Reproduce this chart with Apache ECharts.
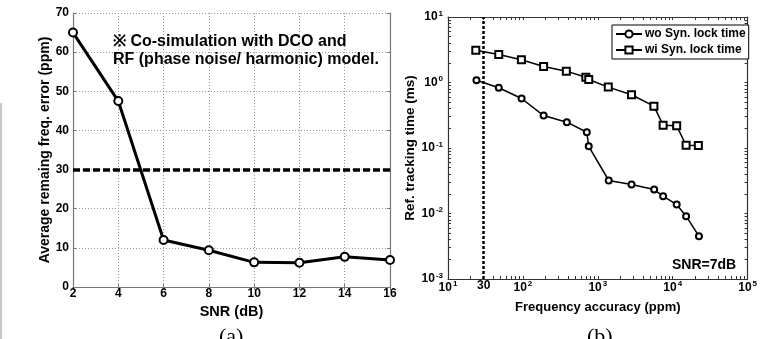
<!DOCTYPE html>
<html>
<head>
<meta charset="utf-8">
<script src="https://cdn.jsdelivr.net/npm/echarts@6/dist/echarts.min.js"></script>
<style>
  html, body { margin: 0; padding: 0; background: #fff; }
  #chart { width: 760px; height: 339px; }
</style>
</head>
<body>
<div id="chart"></div>
<script>
// ---- panel (a): residual frequency error vs SNR ----
const snrValues = [2, 4, 6, 8, 10, 12, 14, 16];
const freqError = [65, 47.5, 12, 9.4, 6.3, 6.2, 7.7, 6.9];
const errorLimit = 30;

// ---- panel (b): tracking time vs frequency accuracy ----
const accWo = [24, 47.6, 96, 189, 386, 713, 757, 1400, 2820, 5660, 7450, 11300, 15100, 22400];
const timeWo = [1.08, 0.83, 0.57, 0.313, 0.248, 0.174, 0.106, 0.0319, 0.0277, 0.0232, 0.0184, 0.0137, 0.0091, 0.0045];
const accWi = [23.5, 47.6, 95.5, 189, 380, 692, 757, 1380, 2820, 5610, 7450, 11300, 15100, 22000];
const timeWi = [3.11, 2.67, 2.22, 1.75, 1.49, 1.2, 1.11, 0.85, 0.65, 0.435, 0.223, 0.218, 0.11, 0.109];
const accuracyMark = 30;

const xLabelValuesB = [10, 30, 100, 1000, 10000, 100000];
const yLabelValuesB = [0.001, 0.01, 0.1, 1, 10];

// log-style ticks (1..9 per decade)
function decadeTicks(lo, hi) {
  const out = [];
  for (let e = lo; e < hi; e++) {
    for (let m = 1; m < 10; m++) out.push(+(m * Math.pow(10, e)).toPrecision(3));
  }
  out.push(Math.pow(10, hi));
  return out;
}
const xTicksB = decadeTicks(1, 5);
const yTicksB = decadeTicks(-3, 1);

const FONT = 'Liberation Sans, Arial, sans-serif';
const labelStyle = { color: '#000', fontFamily: FONT, fontWeight: 'bold', fontSize: 12 };
const sup = {
  b: { fontFamily: FONT, fontWeight: 'bold', fontSize: 12, color: '#000' },
  s: { fontFamily: FONT, fontWeight: 'bold', fontSize: 8, color: '#000', verticalAlign: 'bottom', padding: [0, 0, 7, 1] }
};
const pow10 = (v) => '{b|10}{s|' + Math.round(Math.log10(v)) + '}';

const gridA = '#777';
const gridB = '#333';

const chart = echarts.init(document.getElementById('chart'), null, { renderer: 'canvas' });

// plain box axis (top / right) with inside ticks only
function boxAxis(extra) {
  return Object.assign({
    axisLine: { show: true, lineStyle: { width: 1 } },
    axisTick: { show: true, inside: true, length: 3 },
    axisLabel: { show: false },
    splitLine: { show: false }
  }, extra);
}

chart.setOption({
  animation: false,
  textStyle: { fontFamily: FONT },
  title: [
    {
      text: '※ Co-simulation with DCO and\nRF (phase noise/ harmonic) model.',
      left: 113, top: 33, padding: 0,
      textStyle: { fontFamily: FONT, fontWeight: 'bold', fontSize: 16, lineHeight: 17.5, color: '#000' }
    },
    {
      text: 'SNR=7dB',
      left: 672, top: 258, padding: 0,
      textStyle: { fontFamily: FONT, fontWeight: 'bold', fontSize: 14, color: '#000' }
    },
    {
      text: '(a)', left: 219, top: 326, padding: 0,
      textStyle: { fontFamily: 'Liberation Serif, Times New Roman, serif', fontWeight: 'normal', fontSize: 22, color: '#000' }
    },
    {
      text: '(b)', left: 587, top: 326, padding: 0,
      textStyle: { fontFamily: 'Liberation Serif, Times New Roman, serif', fontWeight: 'normal', fontSize: 22, color: '#000' }
    }
  ],
  legend: {
    data: ['wo Syn. lock time', 'wi Syn. lock time'],
    orient: 'vertical',
    left: 612, top: 25,
    padding: [3, 3, 3, 3],
    itemGap: 4,
    itemWidth: 26, itemHeight: 9,
    backgroundColor: '#fff',
    borderColor: '#000', borderWidth: 1,
    textStyle: { fontFamily: FONT, fontWeight: 'bold', fontSize: 12, color: '#000', padding: [0, 0, 0, -2] }
  },
  grid: [
    { left: 73, top: 13, width: 317, height: 274 },
    { left: 448, top: 17, width: 301, height: 262 }
  ],
  xAxis: [
    {
      gridIndex: 0, type: 'value', min: 2, max: 16, interval: 2,
      name: 'SNR (dB)', nameLocation: 'middle', nameGap: 14,
      nameTextStyle: { fontFamily: FONT, fontWeight: 'bold', fontSize: 14.5, color: '#000' },
      axisLine: { lineStyle: { color: gridA, width: 1.2 } },
      axisTick: { inside: true, length: 3, lineStyle: { color: gridA } },
      axisLabel: Object.assign({ margin: 1 }, labelStyle),
      splitLine: { show: true, lineStyle: { color: '#999', type: [1, 2], width: 1 } }
    },
    boxAxis({ gridIndex: 0, type: 'value', position: 'top', min: 2, max: 16, interval: 2,
      axisLine: { show: true, lineStyle: { color: gridA, width: 1.2 } },
      axisTick: { show: true, inside: true, length: 3, lineStyle: { color: gridA } } }),
    {
      gridIndex: 1, type: 'log', logBase: 10, min: 10, max: 100000,
      name: 'Frequency accuracy (ppm)', nameLocation: 'middle', nameGap: 22,
      nameTextStyle: { fontFamily: FONT, fontWeight: 'bold', fontSize: 13, color: '#000' },
      axisLine: { lineStyle: { color: gridB, width: 1.2 } },
      axisTick: { inside: true, length: 3, customValues: xTicksB, lineStyle: { color: gridB } },
      axisLabel: {
        margin: 1, customValues: xLabelValuesB, rich: sup,
        formatter: (v) => (v === accuracyMark ? '{b|30}' : pow10(v))
      },
      splitLine: { show: false }
    },
    boxAxis({ gridIndex: 1, type: 'log', logBase: 10, position: 'top', min: 10, max: 100000,
      axisLine: { show: true, lineStyle: { color: gridB, width: 1.2 } },
      axisTick: { show: true, inside: true, length: 3, customValues: xTicksB, lineStyle: { color: gridB } } })
  ],
  yAxis: [
    {
      gridIndex: 0, type: 'value', min: 0, max: 70, interval: 10,
      name: 'Average remaing freq. error (ppm)', nameLocation: 'middle', nameGap: 16,
      nameTextStyle: { fontFamily: FONT, fontWeight: 'bold', fontSize: 14, color: '#000' },
      axisLine: { show: true, lineStyle: { color: gridA, width: 1.2 } },
      axisTick: { show: true, inside: true, length: 3, lineStyle: { color: gridA } },
      axisLabel: Object.assign({ margin: 4 }, labelStyle),
      splitLine: { show: true, lineStyle: { color: '#999', type: [1, 2], width: 1 } }
    },
    boxAxis({ gridIndex: 0, type: 'value', position: 'right', min: 0, max: 70, interval: 10,
      axisLine: { show: true, lineStyle: { color: gridA, width: 1.2 } },
      axisTick: { show: true, inside: true, length: 3, lineStyle: { color: gridA } } }),
    {
      gridIndex: 1, type: 'log', logBase: 10, min: 0.001, max: 10,
      name: 'Ref. tracking time (ms)', nameLocation: 'middle', nameGap: 28,
      nameTextStyle: { fontFamily: FONT, fontWeight: 'bold', fontSize: 13.5, color: '#000' },
      axisLine: { show: true, lineStyle: { color: gridB, width: 1.2 } },
      axisTick: { show: true, inside: true, length: 3, customValues: yTicksB, lineStyle: { color: gridB } },
      axisLabel: { margin: 5, customValues: yLabelValuesB, rich: sup, formatter: pow10 },
      splitLine: { show: false }
    },
    boxAxis({ gridIndex: 1, type: 'log', logBase: 10, position: 'right', min: 0.001, max: 10,
      axisLine: { show: true, lineStyle: { color: gridB, width: 1.2 } },
      axisTick: { show: true, inside: true, length: 3, customValues: yTicksB, lineStyle: { color: gridB } } })
  ],
  series: [
    {
      name: 'error', type: 'line', xAxisIndex: 0, yAxisIndex: 0,
      data: snrValues.map((x, i) => [x, freqError[i]]),
      symbol: 'emptyCircle', symbolSize: 8,
      lineStyle: { color: '#000', width: 3 },
      itemStyle: { color: '#000', borderColor: '#000', borderWidth: 2.5 },
      markLine: {
        silent: true, symbol: 'none', label: { show: false },
        lineStyle: { color: '#000', width: 3.5, type: [7, 3] },
        data: [{ yAxis: errorLimit }]
      },
      z: 3
    },
    {
      name: 'wo Syn. lock time', type: 'line', xAxisIndex: 2, yAxisIndex: 2,
      data: accWo.map((x, i) => [x, timeWo[i]]),
      symbol: 'emptyCircle', symbolSize: 6,
      lineStyle: { color: '#000', width: 1.5 },
      itemStyle: { color: '#000', borderColor: '#000', borderWidth: 1.2 },
      markLine: {
        silent: true, symbol: 'none', label: { show: false },
        lineStyle: { color: '#000', width: 2.5, type: [3, 2] },
        data: [{ xAxis: accuracyMark }]
      }
    },
    {
      name: 'wi Syn. lock time', type: 'line', xAxisIndex: 2, yAxisIndex: 2,
      data: accWi.map((x, i) => [x, timeWi[i]]),
      symbol: 'emptyRect', symbolSize: 7,
      lineStyle: { color: '#000', width: 1.5 },
      itemStyle: { color: '#000', borderColor: '#000', borderWidth: 1.2 }
    }
  ],
  graphic: [
    { type: 'line', shape: { x1: 1, y1: 103, x2: 1, y2: 339 }, style: { stroke: '#c8c8c8', lineWidth: 2 } }
  ]
});
</script>
</body>
</html>
